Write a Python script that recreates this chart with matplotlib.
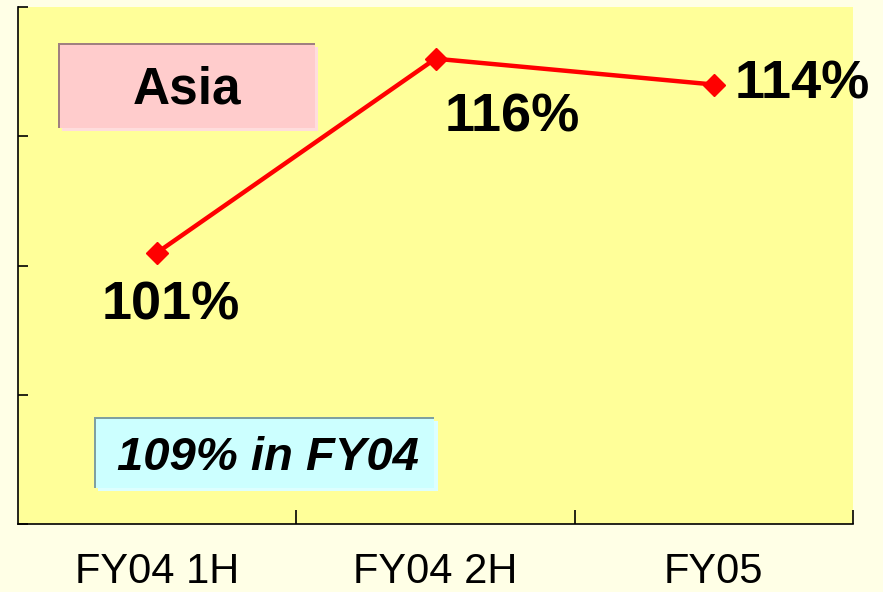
import matplotlib
matplotlib.use("Agg")
import matplotlib.pyplot as plt
from matplotlib.patches import Rectangle

categories = ["FY04 1H", "FY04 2H", "FY05"]
values = [101, 116, 114]
value_labels = ["101%", "116%", "114%"]
title_text = "Asia"
note_text = "109% in FY04"

plt.rcParams['font.family'] = ['Liberation Sans', 'DejaVu Sans']

fig = plt.figure(figsize=(8.83, 5.92), dpi=100)
fig.patch.set_facecolor('#FFFFE6')
ax = fig.add_axes([18/883, 1 - 524/592, 835/883, 517/592])
ax.set_facecolor('#FFFF99')

x = list(range(len(categories)))
ax.plot(x, values, color='#FF0000', lw=3.2, marker='D', ms=11, mec='#FF0000', mfc='#FF0000', zorder=3)

ax.set_xlim(-0.5, 2.5)
ax.set_ylim(80, 120)

# value labels
offsets = [(10, -38), (55, -42), (15, 0)]
has = ['center', 'center', 'left']
for xi, v, lab, off, ha in zip(x, values, value_labels, offsets, has):
    ax.annotate(lab, (xi, v), xytext=off, textcoords='offset points',
                ha=ha, va='center', fontsize=39, fontweight='bold', color='black',
                annotation_clip=False, zorder=4)

# axes styling
for s in ['top', 'right']:
    ax.spines[s].set_visible(False)
for s in ['left', 'bottom']:
    ax.spines[s].set_color('black')
    ax.spines[s].set_linewidth(1.2)

ax.set_yticks([80, 90, 100, 110, 120])
ax.set_yticklabels([])
ax.tick_params(axis='y', direction='in', length=7, width=1.2, color='black')

ax.set_xticks([0, 1, 2])
ax.set_xticklabels(categories, fontsize=30)
ax.tick_params(axis='x', which='major', length=0, pad=20.5)
ax.set_xticks([0.5, 1.5, 2.5], minor=True)
ax.tick_params(axis='x', which='minor', direction='in', length=10, width=1.2, color='black')

def fig_rect(x0, y0, x1, y1, fc, z):
    # pixel coords from top-left
    r = Rectangle((x0/883, 1 - y1/592), (x1 - x0)/883, (y1 - y0)/592,
                  transform=fig.transFigure, facecolor=fc, edgecolor='none', zorder=z)
    fig.add_artist(r)

# Asia box with shadow
fig_rect(62, 47, 318, 131, '#FFDDDD', 5)
fig_rect(58, 43, 315, 128, '#A08080', 6)
fig_rect(60, 45, 315, 128, '#FFCCCC', 7)
fig.text(187/883, 1 - 90/592, title_text, ha='center', va='center',
         fontsize=37, fontweight='bold', color='black', zorder=8)

# note box
fig_rect(98, 421, 438, 491, '#DDFFFF', 5)
fig_rect(94, 417, 434, 488, '#80A0A0', 6)
fig_rect(96, 419, 434, 488, '#CCFFFF', 7)
fig.text(268/883, 1 - 458/592, note_text, ha='center', va='center',
         fontsize=34, fontweight='bold', fontstyle='italic', color='black', zorder=8)

fig.savefig('out.png', dpi=100, facecolor=fig.get_facecolor())
